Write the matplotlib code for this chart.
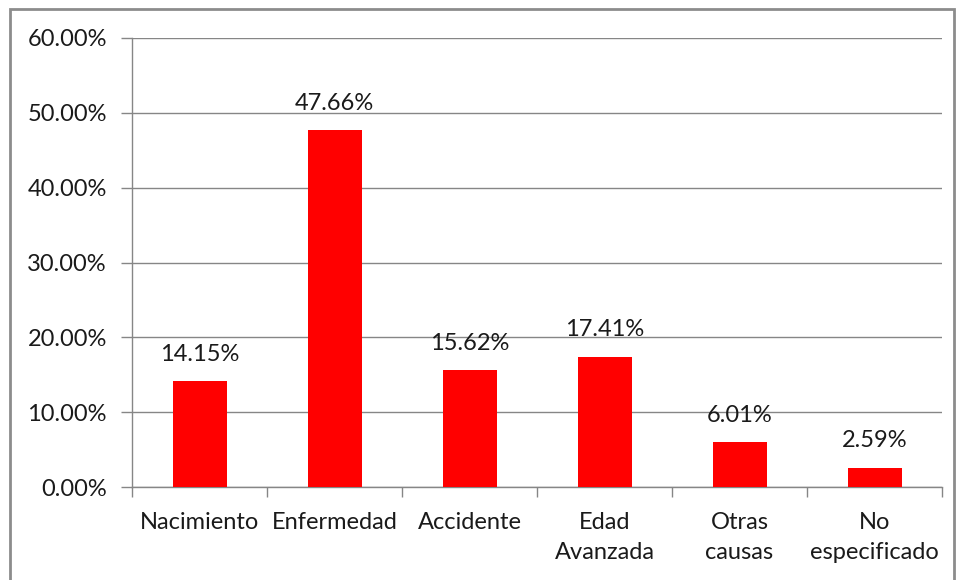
import matplotlib.pyplot as plt
from matplotlib.patches import Rectangle

categories = ['Nacimiento', 'Enfermedad', 'Accidente', 'Edad\nAvanzada', 'Otras\ncausas', 'No\nespecificado']
values = [14.15, 47.66, 15.62, 17.41, 6.01, 2.59]
yticks = [0, 10, 20, 30, 40, 50, 60]

plt.rcParams['font.family'] = ['Lato', 'DejaVu Sans']
grey = '#868686'
fs = 17

fig = plt.figure(figsize=(9.58, 5.8), dpi=100)
fig.patches.append(Rectangle((10 / 958, -0.05), 944 / 958, 1.05 - 9 / 580,
                             transform=fig.transFigure, fill=False,
                             edgecolor='#8c8c8c', linewidth=2))
ax = fig.add_axes([132 / 958, 1 - 487 / 580, 810 / 958, 449 / 580])

x = list(range(len(values)))
ax.bar(x, values, width=0.4, color='#ff0000', zorder=3)
for xi, v in zip(x, values):
    ax.text(xi, v + 2.2, f'{v:.2f}%', ha='center', va='bottom', fontsize=fs, color='#1a1a1a')

ax.set_xlim(-0.5, len(values) - 0.5)
ax.set_ylim(0, 60)
ax.set_yticks(yticks)
ax.set_yticklabels([f'{t:.2f}%' for t in yticks], fontsize=fs, color='#1a1a1a')
ax.yaxis.grid(True, color=grey, linewidth=1, zorder=0)

ax.set_xticks(x)
ax.set_xticklabels(categories, fontsize=fs, color='#1a1a1a', linespacing=1.55)
ax.tick_params(axis='x', length=0, pad=18)
ax.set_xticks([i + 0.5 for i in range(-1, len(values))], minor=True)
ax.tick_params(axis='x', which='minor', length=7, color=grey, width=1)
ax.tick_params(axis='y', length=8, color=grey, width=1, pad=10)

for s in ['top', 'right']:
    ax.spines[s].set_visible(False)
for s in ['left', 'bottom']:
    ax.spines[s].set_color(grey)
    ax.spines[s].set_linewidth(1)

fig.savefig('out.png', dpi=100)
